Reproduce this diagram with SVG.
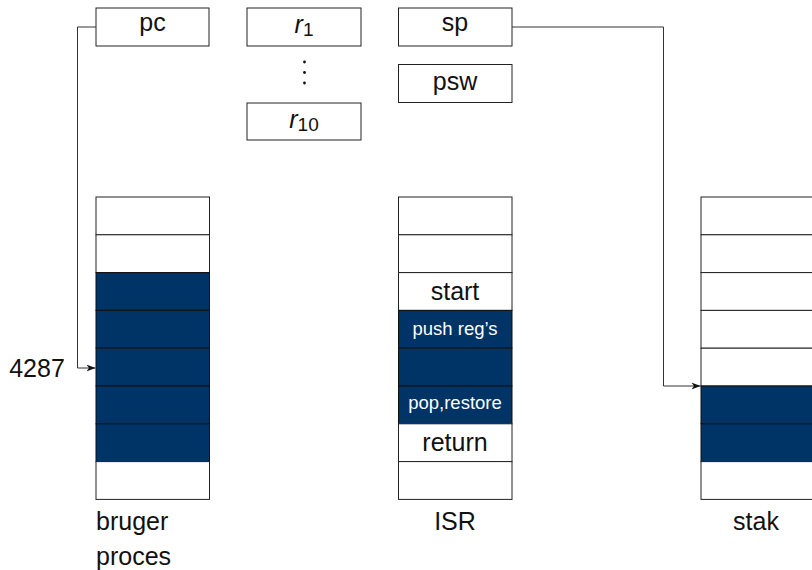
<svg xmlns="http://www.w3.org/2000/svg" width="812" height="570" viewBox="0 0 812 570">
<style>
text{font-family:"Liberation Sans",Arial,sans-serif;font-size:25px;fill:#111;text-anchor:middle}
.box{fill:#fff;stroke:#222;stroke-width:1}
.dk{fill:#003366;stroke:#111;stroke-width:1}
.sm{font-size:18.5px;fill:#fff}
.lbl{text-anchor:start}
.con{fill:none;stroke:#333;stroke-width:1}
</style>
<defs>
<marker id="ah" markerWidth="10" markerHeight="8" refX="9" refY="4" orient="auto" markerUnits="userSpaceOnUse">
<path d="M0,0.5 L9,4 L0,7.5 L2.5,4 Z" fill="#111"/>
</marker>
</defs>
<g id="pc"><rect class="box" x="96" y="8" width="113" height="38"/><text x="152.5" y="31">pc</text></g>
<g id="r1"><rect class="box" x="247" y="8" width="114" height="38"/><text x="304" y="33"><tspan font-style="italic">r</tspan><tspan font-size="19" dy="3">1</tspan></text></g>
<g id="dots"><circle cx="304.5" cy="62" r="1.4" fill="#111"/><circle cx="304.5" cy="72.5" r="1.4" fill="#111"/><circle cx="304.5" cy="83" r="1.4" fill="#111"/></g>
<g id="r10"><rect class="box" x="247" y="103" width="114" height="37"/><text x="304" y="128"><tspan font-style="italic">r</tspan><tspan font-size="19" dy="3">10</tspan></text></g>
<g id="sp"><rect class="box" x="398.5" y="8" width="113.5" height="38"/><text x="455" y="31">sp</text></g>
<g id="psw"><rect class="box" x="398.5" y="64.5" width="113.5" height="38"/><text x="455" y="90">psw</text></g>

<g id="bruger">
<rect class="box" x="96" y="197" width="113.5" height="37.8"/>
<rect class="box" x="96" y="234.8" width="113.5" height="37.8"/>
<rect class="dk" x="96" y="272.6" width="113.5" height="37.8"/>
<rect class="dk" x="96" y="310.4" width="113.5" height="37.8"/>
<rect class="dk" x="96" y="348.2" width="113.5" height="37.8"/>
<rect class="dk" x="96" y="386" width="113.5" height="37.8"/>
<rect class="dk" x="96" y="423.8" width="113.5" height="37.8"/>
<rect class="box" x="96" y="461.6" width="113.5" height="37.8"/>
<text class="lbl" x="96" y="530">bruger</text>
<text class="lbl" x="96" y="565">proces</text>
</g>

<g id="isr">
<rect class="box" x="398.5" y="197" width="113.5" height="37.8"/>
<rect class="box" x="398.5" y="234.8" width="113.5" height="37.8"/>
<rect class="box" x="398.5" y="272.6" width="113.5" height="37.8"/>
<rect class="dk" x="398.5" y="310.4" width="113.5" height="37.8"/>
<rect class="dk" x="398.5" y="348.2" width="113.5" height="37.8"/>
<rect class="dk" x="398.5" y="386" width="113.5" height="37.8"/>
<rect class="box" x="398.5" y="423.8" width="113.5" height="37.8"/>
<rect class="box" x="398.5" y="461.6" width="113.5" height="37.8"/>
<text x="455" y="300">start</text>
<text class="sm" x="455" y="335">push reg’s</text>
<text class="sm" x="455" y="409">pop,restore</text>
<text x="455" y="451">return</text>
<text x="455" y="530">ISR</text>
</g>

<g id="stak">
<rect class="box" x="701" y="197" width="120" height="37.8"/>
<rect class="box" x="701" y="234.8" width="120" height="37.8"/>
<rect class="box" x="701" y="272.6" width="120" height="37.8"/>
<rect class="box" x="701" y="310.4" width="120" height="37.8"/>
<rect class="box" x="701" y="348.2" width="120" height="37.8"/>
<rect class="dk" x="701" y="386" width="120" height="37.8"/>
<rect class="dk" x="701" y="423.8" width="120" height="37.8"/>
<rect class="box" x="701" y="461.6" width="120" height="37.8"/>
<text x="756" y="530">stak</text>
</g>

<g id="addr"><text x="37" y="377">4287</text></g>

<g id="connectors">
<path class="con" d="M96,27 H77.5 V368 H95.5" marker-end="url(#ah)"/>
<path class="con" d="M512,27 H663.5 V386 H700.5" marker-end="url(#ah)"/>
</g>
</svg>
